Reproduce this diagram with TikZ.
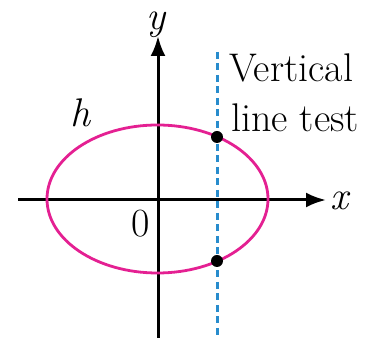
\documentclass[tikz,border=0pt]{standalone}
\usetikzlibrary{arrows.meta}
\definecolor{curvepink}{RGB}{228,32,146}
\definecolor{testblue}{RGB}{40,140,205}
\begin{document}
\begin{tikzpicture}[
		x=1pt, y=-1pt,
		every node/.style={font=\fontsize{40}{48}\selectfont, inner sep=0pt},
		axis/.style={line width=3pt, -{Latex[length=20pt,width=15pt]}},
		curve/.style={curvepink, line width=2.8pt},
		testline/.style={testblue, line width=3pt, dash pattern=on 7pt off 4.5pt},
		dot/.style={circle, fill=black, minimum size=12pt},
		]
		
		\useasboundingbox (0,0) rectangle (370,344);
		
		% axes
		\coordinate (xstart) at (18,200);
		\coordinate (xend)   at (326,200);
		\coordinate (ystart) at (158,338);
		\coordinate (yend)   at (158,36);
		\draw[axis] (xstart) -- (xend);
		\draw[axis] (ystart) -- (yend);
		\node[anchor=base] (xlabel) at (339,210) {\itshape x};
		\node[anchor=base] (ylabel) at (156,30)  {\itshape y};
		\node[anchor=base] (origin) at (141,237) {0};
		
		% the relation h
		\draw[curve] (157.5,199) ellipse [x radius=110.5, y radius=74];
		\node[anchor=base] (hlabel) at (80,127) {\itshape h};
		
		% vertical line test
		\coordinate (testtop)    at (217,52);
		\coordinate (testbottom) at (217,338);
		\draw[testline] (testtop) -- (testbottom);
		\node[dot] (upper) at (217,137) {};
		\node[dot] (lower) at (217,261) {};
		\node[anchor=base west] (testlabel1) at (229,82)  {Vertical};
		\node[anchor=base west] (testlabel2) at (231,132) {line test};
		
	\end{tikzpicture}
\end{document}
